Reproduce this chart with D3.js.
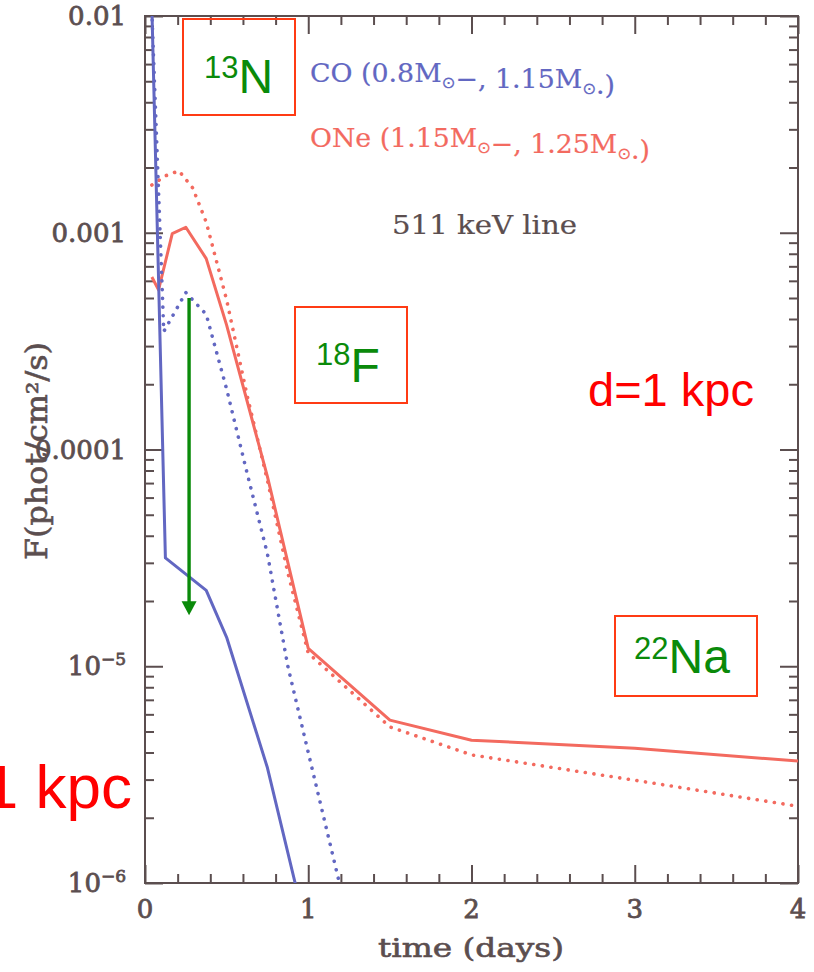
<!DOCTYPE html>
<html><head><meta charset="utf-8">
<script src="https://cdn.jsdelivr.net/npm/d3@7"></script>
<style>body{margin:0;background:#fff}svg{display:block}</style>
</head><body><svg id="c" width="814" height="972"></svg>
<script>
// ---------------- data ----------------
const xTickVals = [0, 1, 2, 3, 4];
const xTickLabels = ["0", "1", "2", "3", "4"];
const yTickVals = [1e-2, 1e-3, 1e-4, 1e-5, 1e-6];
const yTickBase = ["0.01", "0.001", "0.0001", "10", "10"];
const yTickExp  = ["", "", "", "\u22125", "\u22126"];

// CO novae (blue)
const coSolidT = [0.042, 0.125, 0.375, 0.5, 0.75, 1.0];
const coSolidF = [1.1e-2, 3.16e-5, 2.24e-5, 1.36e-5, 3.4e-6, 5.6e-7];
const coDotT = [0.042, 0.115, 0.25, 0.375, 0.5, 0.625, 0.75, 0.875, 1.0, 1.25];
const coDotF = [1.05e-2, 3.5e-4, 5.3e-4, 4.2e-4, 1.9e-4, 7.8e-5, 3.3e-5, 1.0e-5, 4.0e-6, 6.5e-7];
// ONe novae (red)
const oneSolidT = [0.042, 0.083, 0.167, 0.25, 0.375, 0.5, 0.75, 1.0, 1.5, 2.0, 3.0, 4.0];
const oneSolidF = [6.25e-4, 5.45e-4, 9.9e-4, 1.06e-3, 7.6e-4, 3.75e-4, 7.5e-5, 1.21e-5, 5.64e-6, 4.56e-6, 4.19e-6, 3.65e-6];
const oneDotT = [0.042, 0.125, 0.208, 0.292, 0.375, 0.5, 0.625, 0.75, 0.875, 1.0, 1.5, 2.0, 3.0, 4.0];
const oneDotF = [1.66e-3, 1.83e-3, 1.93e-3, 1.61e-3, 1.12e-3, 4.9e-4, 1.78e-4, 7.2e-5, 2.7e-5, 1.15e-5, 5.25e-6, 3.9e-6, 2.98e-6, 2.26e-6];

// annotation arrow (data coords)
const arrowT = 0.27, arrowFrom = 5.0e-4, arrowTo = 1.72e-5;

// ---------------- setup ----------------
const svg = d3.select("#c");
const L = 145, R = 798, T = 16, B = 883;
const x = d3.scaleLinear().domain([0, 4]).range([L, R]);
const y = d3.scaleLog().domain([1e-6, 1e-2]).range([B, T]);
const axCol = "#5b4e4f";
const blue = "#6267c2", red = "#f36a5f";
const serif = "'DejaVu Serif', serif";
const sans = "'Liberation Sans', Arial, sans-serif";

const xMinor = d3.range(0, 4.0001, 0.2).filter(v => Math.abs(v - Math.round(v)) > 1e-6);
const yMinor = [];
[-6, -5, -4, -3].forEach(k => { for (let m = 2; m <= 9; m++) yMinor.push(m * Math.pow(10, k)); });

function styleAxis(g) {
  g.select(".domain").remove();
  g.selectAll("text").remove();
  g.selectAll("line").attr("stroke", axCol).attr("stroke-width", 2);
}
function addAxis(gen, tx, ty, vals, size) {
  svg.append("g").attr("transform", `translate(${tx},${ty})`)
    .call(gen.tickValues(vals).tickSize(-size).tickFormat(""))
    .call(styleAxis);
}
addAxis(d3.axisBottom(x), 0, B, xTickVals, 18);
addAxis(d3.axisBottom(x), 0, B, xMinor, 9);
addAxis(d3.axisTop(x), 0, T, xTickVals, 18);
addAxis(d3.axisTop(x), 0, T, xMinor, 9);
addAxis(d3.axisLeft(y), L, 0, yTickVals, 18);
addAxis(d3.axisLeft(y), L, 0, yMinor, 9);
addAxis(d3.axisRight(y), R, 0, yTickVals, 18);
addAxis(d3.axisRight(y), R, 0, yMinor, 9);

svg.append("rect").attr("x", L).attr("y", T).attr("width", R - L).attr("height", B - T)
  .attr("fill", "none").attr("stroke", axCol).attr("stroke-width", 2);

// tick labels
xTickVals.forEach((v, i) => {
  svg.append("text").attr("x", x(v)).attr("y", 918).attr("text-anchor", "middle")
    .attr("font-family", serif).attr("font-size", 26).attr("fill", axCol)
    .attr("stroke", axCol).attr("stroke-width", 0.8).text(xTickLabels[i]);
});
yTickVals.forEach((v, i) => {
  const t = svg.append("text").attr("x", 126).attr("y", y(v) + 9).attr("text-anchor", "end")
    .attr("font-family", serif).attr("font-size", 26).attr("fill", axCol)
    .attr("stroke", axCol).attr("stroke-width", 0.8);
  t.append("tspan").text(yTickBase[i]);
  if (yTickExp[i]) t.append("tspan").attr("font-size", 17).attr("dy", -10).text(yTickExp[i]);
});

// axis titles
svg.append("text").attr("x", 471).attr("y", 957).attr("text-anchor", "middle")
  .attr("font-family", serif).attr("font-size", 26).attr("fill", axCol)
  .attr("stroke", axCol).attr("stroke-width", 0.6)
  .attr("textLength", 186).attr("lengthAdjust", "spacingAndGlyphs").text("time (days)");
svg.append("text").attr("transform", "translate(47,451) rotate(-90)").attr("text-anchor", "middle")
  .attr("font-family", serif).attr("font-size", 29).attr("fill", axCol)
  .attr("stroke", axCol).attr("stroke-width", 0.6)
  .attr("textLength", 218).attr("lengthAdjust", "spacingAndGlyphs").text("F(phot/cm\u00b2/s)");

// ---------------- curves ----------------
svg.append("clipPath").attr("id", "clip").append("rect")
  .attr("x", L).attr("y", T).attr("width", R - L).attr("height", B - T);
const line = d3.line().x(d => x(d[0])).y(d => y(d[1]));
function series(ts, fs, col, dotted) {
  const p = svg.append("path").attr("clip-path", "url(#clip)")
    .attr("d", line(ts.map((t, i) => [t, fs[i]])))
    .attr("fill", "none").attr("stroke", col)
    .attr("stroke-linejoin", "round");
  if (dotted) p.attr("stroke-width", 3.6).attr("stroke-linecap", "round").attr("stroke-dasharray", "0.1 8.6");
  else p.attr("stroke-width", 3);
}
series(oneDotT, oneDotF, red, true);
series(oneSolidT, oneSolidF, red, false);
series(coDotT, coDotF, blue, true);
series(coSolidT, coSolidF, blue, false);

// ---------------- legend texts ----------------
function legend(xp, yp, col, parts, len) {
  const t = svg.append("text").attr("x", xp).attr("y", yp)
    .attr("font-family", serif).attr("font-size", 26).attr("fill", col)
    .attr("stroke", col).attr("stroke-width", 0.2)
    .attr("textLength", len).attr("lengthAdjust", "spacingAndGlyphs");
  parts.forEach(p => {
    if (p === "SUN") {
      t.append("tspan").attr("font-size", 16).attr("dy", 6).attr("font-family", "'DejaVu Sans', sans-serif").text("\u2299");
      t.append("tspan").attr("dy", -6).text("");
    } else t.append("tspan").text(p);
  });
}
legend(310, 82, blue, ["CO (0.8M", "SUN", "\u2212, 1.15M", "SUN", ".)"], 305);
legend(310, 147, red, ["ONe (1.15M", "SUN", "\u2212, 1.25M", "SUN", ".)"], 340);
legend(392, 234, axCol, ["511 keV line"], 185);

// ---------------- slide annotations ----------------
const boxCol = "#ff3b14", green = "#0a8a0a";
function box(x0, y0, x1, y1) {
  svg.append("rect").attr("x", x0).attr("y", y0).attr("width", x1 - x0).attr("height", y1 - y0)
    .attr("fill", "none").attr("stroke", boxCol).attr("stroke-width", 2);
}
function iso(xp, yp, mass, el, lift) {
  const t = svg.append("text").attr("x", xp).attr("y", yp).attr("font-family", sans).attr("fill", green);
  t.append("tspan").attr("font-size", 31).attr("dy", -lift).text(mass);
  t.append("tspan").attr("font-size", 48).attr("dy", lift).text(el);
}
box(183, 19, 295, 115); iso(204, 93, "13", "N", 15);
box(295, 307, 407, 403); iso(316, 382, "18", "F", 17);
box(615, 616, 757, 696); iso(634, 673, "22", "Na", 14);

svg.append("text").attr("x", 588).attr("y", 406).attr("font-family", sans)
  .attr("font-size", 47).attr("fill", "#ff0000").text("d=1 kpc");
svg.append("text").attr("x", 132).attr("y", 808).attr("text-anchor", "end").attr("font-family", sans)
  .attr("font-size", 62).attr("fill", "#ff0000").text("1 kpc");

// green arrow
const ax = x(arrowT), ay0 = y(arrowFrom), ay1 = y(arrowTo);
svg.append("line").attr("x1", ax).attr("x2", ax).attr("y1", ay0).attr("y2", ay1 - 10)
  .attr("stroke", green).attr("stroke-width", 3.4);
svg.append("path").attr("d", `M${ax - 7.5},${ay1 - 14} L${ax + 7.5},${ay1 - 14} L${ax},${ay1} Z`).attr("fill", green);
</script>
</body></html>
